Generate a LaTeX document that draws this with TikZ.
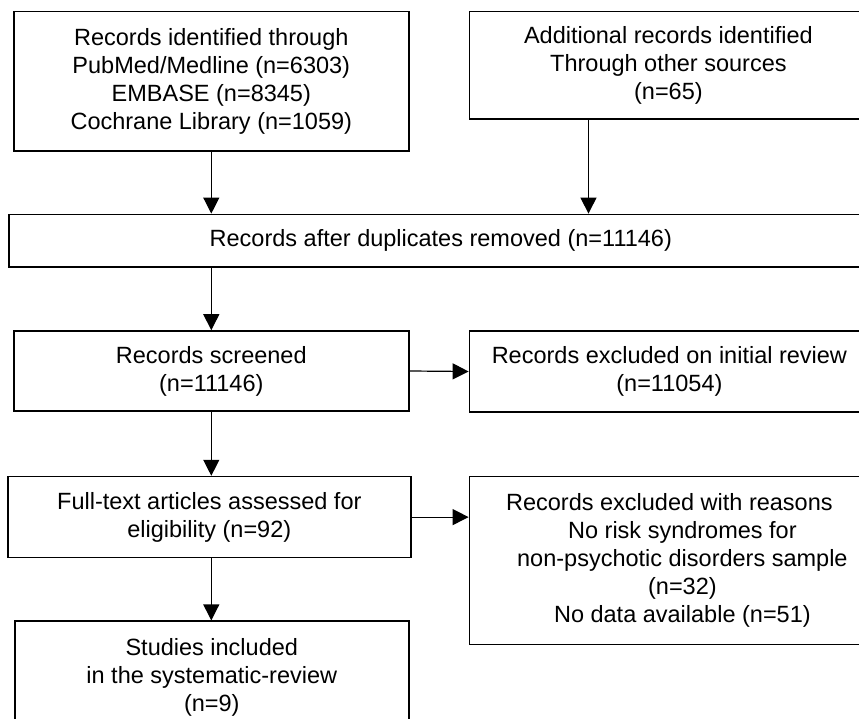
\documentclass[tikz,border=0pt]{standalone}
\usepackage{fontspec}
\setmainfont{Liberation Sans}
\usetikzlibrary{arrows.meta, positioning, calc}

\begin{document}
\begin{tikzpicture}[
    >={Triangle[length=16pt, width=16pt]},
    font=\fontsize{23.5}{28}\selectfont
]

\tikzset{
    flowbox/.style={
        rectangle,
        draw=black,
        line width=1.6pt,
        fill=white,
        align=center,
        inner sep=2pt
    },
    arr/.style={
        ->,
        line width=1.2pt,
        draw=black
    }
}

\useasboundingbox[fill=white] (0pt,0pt) rectangle (859pt,-719pt);

% Nodes
\node[flowbox, minimum width=395pt, minimum height=139.3pt, anchor=north west] (ident) at (13pt,-10.7pt)
    {Records identified through\\PubMed/Medline (n=6303)\\EMBASE (n=8345)\\Cochrane Library (n=1059)};
\node[flowbox, minimum width=398pt, minimum height=107.3pt, right=59pt of ident.north east, anchor=north west] (other)
    {Additional records identified\\Through other sources\\(n=65)};
\node[flowbox, minimum width=864pt, minimum height=52.5pt, below=62pt of ident.south west, anchor=north west, xshift=-5pt] (dup)
    {Records after duplicates removed (n=11146)};
\node[flowbox, minimum width=395pt, minimum height=80pt, below=62.5pt of dup.south west, anchor=north west, xshift=5pt] (screen)
    {Records screened\\(n=11146)};
\node[flowbox, minimum width=400pt, minimum height=81pt, right=59pt of screen.north east, anchor=north west] (excl)
    {Records excluded on initial review\\(n=11054)};
\node[flowbox, minimum width=403pt, minimum height=81pt, below=64pt of screen.south west, anchor=north west, xshift=-6pt] (full)
    {Full-text articles assessed for\\eligibility (n=92)};
\node[flowbox, minimum width=400pt, minimum height=168pt, right=57pt of full.north east, anchor=north west] (reason)
    {Records excluded with reasons\\\hspace*{26pt}No risk syndromes for\\\hspace*{26pt}non-psychotic disorders sample\\\hspace*{26pt}(n=32)\\\hspace*{26pt}No data available (n=51)};
\node[flowbox, minimum width=394pt, minimum height=112pt, below=62pt of full.south west, anchor=north west, xshift=7pt] (incl)
    {Studies included\\in the systematic-review\\(n=9)};

% Arrows down the left column
\draw[arr] (ident.south) -- (ident.south |- dup.north);
\draw[arr] ($(other.south west)!0.3!(other.south east)$) coordinate (ob) -- (ob |- dup.north);
\draw[arr] (dup.south -| screen.north) -- (screen.north);
\draw[arr] (screen.south) -- (full.north -| screen.south);
\draw[arr] (full.south -| screen.south) -- (incl.north -| screen.south);

% Arrows to the exclusions
\draw[arr] (screen.east) -- (excl.west);
\draw[arr] (full.east) -- (full.east -| reason.west);

\end{tikzpicture}
\end{document}
